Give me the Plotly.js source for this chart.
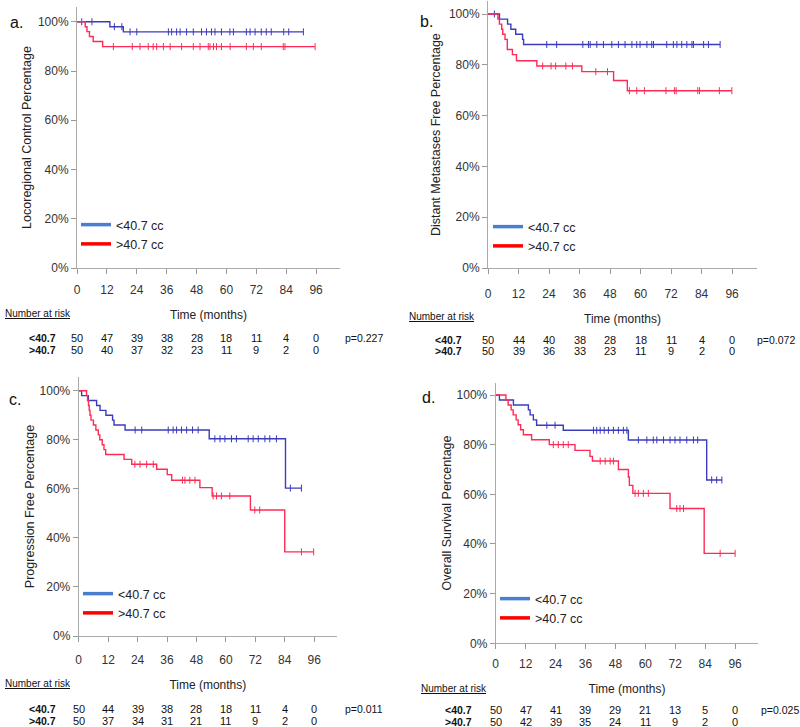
<!DOCTYPE html>
<html>
<head>
<meta charset="utf-8">
<script src="https://cdn.plot.ly/plotly-3.0.1.min.js"></script>
<style>html,body{margin:0;padding:0;background:#fff;}#chart{width:800px;height:727px;}</style>
</head>
<body>
<div id="chart"></div>
<script>
// ---------------- DATA ----------------
const months = [0, 12, 24, 36, 48, 60, 72, 84, 96];
const pctVals = [0, 20, 40, 60, 80, 100];
const pctText = ['0%', '20%', '40%', '60%', '80%', '100%'];
const seriesNames = ['<40.7 cc', '>40.7 cc'];
const riskLabels = ['<40.7', '>40.7'];
const yTitles = ['Locoregional Control Percentage', 'Distant Metastases Free Percentage',
                 'Progression Free Percentage', 'Overall Survival Percentage'];
const panelLabels = ['a.', 'b.', 'c.', 'd.'];
const pValues = ['p=0.227', 'p=0.072', 'p=0.011', 'p=0.025'];

// Panel a: locoregional control
const aLowT = [13.2, 18.6];
const aLowS = [98, 95.9];
const aLowCens = [1.9, 6, 15, 18, 21.3, 24, 36.7, 38, 40, 41.4, 44, 46.7, 50, 52, 54, 55.4, 58, 61.4, 62.8, 68, 69.5, 71.5, 74, 76, 78, 83, 85, 90.9];
const aHighT = [3.3, 4.0, 5.0, 6.5, 10.3];
const aHighS = [98, 96, 94, 92, 89.9];
const aHighCens = [14.6, 22.2, 25.3, 28.6, 30.6, 32, 34.7, 37.4, 42, 46.7, 49.4, 52.7, 53.4, 54.8, 56, 58, 61.5, 68, 70.8, 74, 82.8, 83.5, 95.6];

// Panel b: distant metastases free
const bLowT = [4.5, 7.7, 9.0, 10.9, 13.6, 14.0];
const bLowS = [98, 96, 94, 92, 90, 88];
const bLowCens = [2.5, 23.1, 27, 37.3, 39.5, 40.2, 42.8, 45.4, 48.7, 51.3, 53.9, 56.6, 58.5, 59.8, 62.5, 64.4, 65.1, 70.3, 72.9, 74.3, 76.2, 78.2, 80.2, 80.8, 84.8, 86.7, 91.3];
const bHighT = [3.9, 4.5, 5.4, 5.8, 6.7, 7.6, 9.6, 11.2, 19.2, 36.9, 49.4, 54.8];
const bHighS = [98, 96, 94, 92, 90, 86, 84, 81.6, 79.5, 77.3, 73.8, 69.8];
const bHighCens = [21.5, 24.8, 26.6, 30.6, 33.2, 42.4, 47, 55.6, 58.5, 61.5, 70, 73.3, 74, 82.5, 83.2, 91, 95.9];

// Panel c: progression free
const cLowT = [1.2, 3.9, 7.3, 8.7, 11.1, 13.8, 14.4, 18.9, 53.2, 84.3];
const cLowS = [98, 96, 94, 92, 90, 88, 86, 84, 80.4, 60.3];
const cLowCens = [23, 25.7, 36.5, 38.5, 39.9, 41.9, 44, 46.4, 48.7, 55.5, 57.6, 59.6, 62.3, 64.3, 69.1, 71.1, 73.2, 75.9, 77.9, 80.6, 86.3, 90.8];
const cHighT = [3.2, 3.6, 4.0, 4.3, 4.6, 5.0, 6.0, 7.0, 8.0, 8.6, 9.6, 10.3, 11.0, 18.5, 21.6, 31.8, 36.1, 37.9, 49.4, 54.4, 70, 84];
const cHighS = [98, 96, 94, 92, 90, 88, 86, 84, 82, 80, 78, 76, 74, 72, 70, 68, 65.8, 63.5, 60.5, 57.1, 51.4, 34.3];
const cHighCens = [22.9, 25, 27.7, 30.4, 42.3, 43.3, 45.3, 47.4, 54.8, 56.2, 58.2, 61.6, 71.8, 73.8, 90.8, 95.8];

// Panel d: overall survival
const dLowT = [1.5, 7.1, 13.1, 13.8, 15.1, 16.4, 27.1, 53.2, 84.6];
const dLowS = [98, 96, 94, 92, 90, 87.8, 85.8, 81.9, 65.8];
const dLowCens = [20.5, 23.8, 39.2, 40.5, 41.9, 43.5, 45.2, 47.2, 49.2, 51.2, 52.6, 57.2, 60.6, 63.2, 64.6, 67.3, 69.9, 71.9, 73.9, 76.6, 79.3, 81, 86.6, 88.6, 90.7];
const dHighT = [4.1, 5.0, 6.2, 7.0, 8.2, 9.0, 10.0, 11.1, 14.4, 21.5, 31.8, 37.8, 38.8, 49.2, 53.2, 53.6, 55, 69.9, 83.6];
const dHighS = [98, 96, 94, 92, 90, 88, 86, 84, 82, 80, 77.7, 75.3, 73.4, 70, 67, 63.6, 60.4, 54.3, 36.2];
const dHighCens = [23.1, 25.1, 27.1, 29.1, 41.9, 43.9, 45.9, 47.2, 55.9, 57.2, 59.2, 61.2, 72.6, 73.9, 75.3, 90, 96];

// Numbers at risk
const aRiskLow = [50, 47, 39, 38, 28, 18, 11, 4, 0];
const aRiskHigh = [50, 40, 37, 32, 23, 11, 9, 2, 0];
const bRiskLow = [50, 44, 40, 38, 28, 18, 11, 4, 0];
const bRiskHigh = [50, 39, 36, 33, 23, 11, 9, 2, 0];
const cRiskLow = [50, 44, 39, 38, 28, 18, 11, 4, 0];
const cRiskHigh = [50, 37, 34, 31, 21, 11, 9, 2, 0];
const dRiskLow = [50, 47, 41, 39, 29, 21, 13, 5, 0];
const dRiskHigh = [50, 42, 39, 35, 24, 11, 9, 2, 0];

// ---------------- STYLE / LAYOUT ----------------
const W = 800, H = 727;
const FONT = 'Liberation Sans, Arial, Helvetica, sans-serif';
const CURVE = ['#3b3bbd', '#ff2a55'];
const LEG = ['#4a7fd0', '#ff0000'];
const px = v => v / W;
const py = v => 1 - v / H;

const data = [
  {low: [aLowT, aLowS, aLowCens], high: [aHighT, aHighS, aHighCens], risk: [aRiskLow, aRiskHigh]},
  {low: [bLowT, bLowS, bLowCens], high: [bHighT, bHighS, bHighCens], risk: [bRiskLow, bRiskHigh]},
  {low: [cLowT, cLowS, cLowCens], high: [cHighT, cHighS, cHighCens], risk: [cRiskLow, cRiskHigh]},
  {low: [dLowT, dLowS, dLowCens], high: [dHighT, dHighS, dHighCens], risk: [dRiskLow, dRiskHigh]}
];

// geometry per panel (pixels)
const geo = [
  {x0: 77, x1: 340, xr: 105.6, y0: 268, y1: 7, yr: 106, lstand: 6, ystand: 3, label: [8, 22], leg: [76, 210],
   nar: [3, 313], rows: [338, 350], rowLab: 27, pX: 343},
  {x0: 488, x1: 757, xr: 105.8, y0: 268, y1: 1.3, yr: 105, lstand: 10, ystand: 5, label: [418, 21], leg: [488, 212],
   nar: [407, 316], rows: [340, 351], rowLab: 433, pX: 755},
  {x0: 78.7, x1: 337, xr: 105.3, y0: 636, y1: 377, yr: 105.6, lstand: 8, ystand: 2, label: [7, 399], leg: [78, 579],
   nar: [3, 683], rows: [709, 721], rowLab: 27, pX: 343},
  {x0: 495.7, x1: 758.3, xr: 105.3, y0: 643.3, y1: 382.6, yr: 105, lstand: 4, ystand: 2, label: [420, 397], leg: [495, 584],
   nar: [419, 688], rows: [710, 722], rowLab: 443, pX: 759}
];

function stepVal(T, S, t) {
  let v = 100;
  for (let i = 0; i < T.length; i++) if (T[i] <= t) v = S[i];
  return v;
}

const traces = [];
const annotations = [];
const layout = {
  width: W, height: H,
  margin: {l: 0, r: 0, t: 0, b: 0},
  paper_bgcolor: '#fff', plot_bgcolor: '#fff',
  font: {family: FONT, size: 12, color: '#222'},
  showlegend: true,
  annotations: annotations
};

data.forEach((p, k) => {
  const g = geo[k];
  const sfx = k === 0 ? '' : String(k + 1);
  const xa = 'x' + sfx, ya = 'y' + sfx;
  const legName = 'legend' + sfx;

  [p.low, p.high].forEach((grp, gi) => {
    const [T, S, C] = grp;
    const end = Math.max(...C, ...T);
    const xs = [0].concat(T, [end]);
    const ys = [100].concat(S, [S[S.length - 1]]);
    traces.push({x: xs, y: ys, xaxis: xa, yaxis: ya, mode: 'lines', line: {shape: 'hv', color: CURVE[gi], width: 1.4},
                 showlegend: false, hoverinfo: 'skip'});
    traces.push({x: C, y: C.map(t => stepVal(T, S, t)), xaxis: xa, yaxis: ya, mode: 'markers',
                 marker: {symbol: 'line-ns-open', size: 5, color: CURVE[gi], line: {color: CURVE[gi], width: 1}},
                 showlegend: false, hoverinfo: 'skip'});
    traces.push({x: [null], y: [null], xaxis: xa, yaxis: ya, mode: 'lines', name: seriesNames[gi],
                 line: {color: LEG[gi], width: 3.5}, legend: legName, showlegend: true});
  });

  layout['xaxis' + sfx] = {
    domain: [px(g.x0), px(g.x1)], range: [0, g.xr], anchor: ya,
    tickvals: months, ticks: 'outside', ticklen: 5, tickcolor: '#999', tickwidth: 1,
    showline: true, linecolor: '#aaa', linewidth: 1, showgrid: false, zeroline: false,
    tickfont: {size: 12, color: '#333'}, ticklabelstandoff: g.lstand,
    title: {text: 'Time (months)', font: {size: 12, color: '#222'}, standoff: 14},
    fixedrange: true
  };
  layout['yaxis' + sfx] = {
    domain: [py(g.y0), py(g.y1)], range: [0, g.yr], anchor: xa,
    tickvals: pctVals, ticktext: pctText, ticks: 'outside', ticklen: 5,
    tickcolor: '#999', tickwidth: 1, showline: true, linecolor: '#aaa', linewidth: 1,
    showgrid: false, zeroline: false, tickfont: {size: 12, color: '#333'},
    title: {text: yTitles[k], font: {size: 12.5, color: '#222'}, standoff: g.ystand},
    fixedrange: true
  };
  layout[legName] = {
    x: px(g.leg[0]), y: py(g.leg[1]), xanchor: 'left', yanchor: 'top',
    bgcolor: 'rgba(0,0,0,0)', font: {size: 12.5, color: '#222'}, itemwidth: 30,
    tracegroupgap: 0
  };

  annotations.push({text: panelLabels[k], xref: 'paper', yref: 'paper', x: px(g.label[0]), y: py(g.label[1]),
                    xanchor: 'left', yanchor: 'middle', showarrow: false, font: {size: 16, color: '#111'}});
  annotations.push({text: '<u>Number at risk</u>', xref: 'paper', yref: 'paper', x: px(g.nar[0]), y: py(g.nar[1]),
                    xanchor: 'left', yanchor: 'middle', showarrow: false, font: {size: 10, color: '#111'}});
  p.risk.forEach((row, ri) => {
    annotations.push({text: '<b>' + riskLabels[ri] + '</b>', xref: 'paper', yref: 'paper',
                      x: px(g.rowLab), y: py(g.rows[ri]), xanchor: 'left', yanchor: 'middle',
                      showarrow: false, font: {size: 10.5, color: '#111'}});
    row.forEach((n, ci) => {
      annotations.push({text: String(n), xref: xa, yref: 'paper', x: months[ci], y: py(g.rows[ri]),
                        xanchor: 'center', yanchor: 'middle', showarrow: false, font: {size: 11, color: '#111'}});
    });
  });
  annotations.push({text: pValues[k], xref: 'paper', yref: 'paper', x: px(g.pX), y: py(g.rows[0]),
                    xanchor: 'left', yanchor: 'middle', showarrow: false, font: {size: 10.5, color: '#111'}});
});

Plotly.newPlot('chart', traces, layout, {displayModeBar: false, staticPlot: true});
</script>
</body>
</html>
